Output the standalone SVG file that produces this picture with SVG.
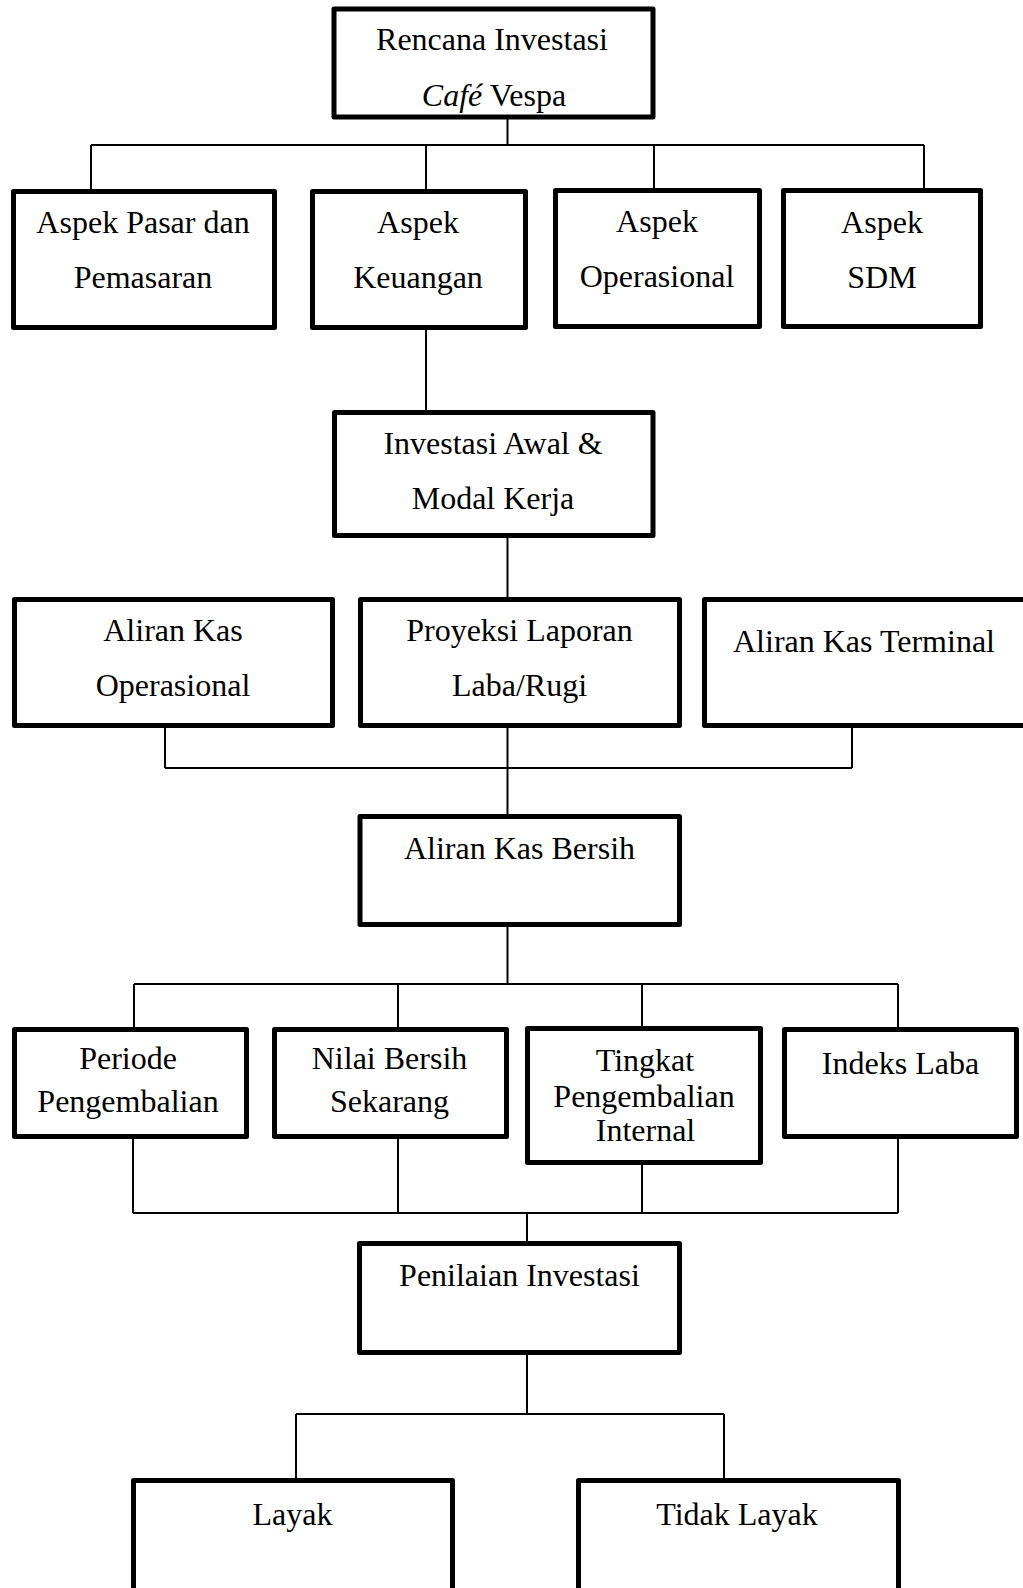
<svg xmlns="http://www.w3.org/2000/svg" width="1023" height="1588" viewBox="0 0 1023 1588">
<style>
.box{fill:#fff;stroke:#000;stroke-width:5;stroke-linejoin:round}
.t{font-family:"Liberation Serif","Times New Roman",serif;font-size:32px;fill:#000;text-anchor:middle}
.c{fill:none;stroke:#000;stroke-width:2}
</style>
<rect width="1023" height="1588" fill="#fff"/>
<g id="connectors">
<path class="c" d="M507.5 119V145 M91 145H924 M91 145V189 M426 145V189 M654 145V188 M924 145V188"/>
<path class="c" d="M426 330V410"/>
<path class="c" d="M507.5 538V597"/>
<path class="c" d="M165 728V768 M507.5 728V814 M852 728V768 M165 768H852"/>
<path class="c" d="M507.5 927V984 M134 984H898 M134 984V1027 M398 984V1027 M642 984V1026 M898 984V1027"/>
<path class="c" d="M133 1139V1213 M398 1139V1213 M642 1165V1213 M898 1139V1213 M133 1213H898 M527 1213V1241"/>
<path class="c" d="M527 1355V1414 M296 1414H724 M296 1414V1478 M724 1414V1478"/>
</g>
<g id="n-rencana"><rect class="box" x="334" y="9" width="319" height="108"/>
<text class="t" x="492" y="50">Rencana Investasi</text>
<text class="t" x="494" y="106"><tspan font-style="italic">Café</tspan> Vespa</text></g>
<g id="n-pasar"><rect class="box" x="13.5" y="191.5" width="261" height="136"/>
<text class="t" x="143" y="233">Aspek Pasar dan</text><text class="t" x="143" y="288">Pemasaran</text></g>
<g id="n-keuangan"><rect class="box" x="312.5" y="191.5" width="213" height="136"/>
<text class="t" x="418" y="233">Aspek</text><text class="t" x="418" y="288">Keuangan</text></g>
<g id="n-operasional"><rect class="box" x="555.5" y="190.5" width="204" height="136"/>
<text class="t" x="657" y="232">Aspek</text><text class="t" x="657" y="287">Operasional</text></g>
<g id="n-sdm"><rect class="box" x="783.5" y="190.5" width="197" height="136"/>
<text class="t" x="882" y="233">Aspek</text><text class="t" x="882" y="288">SDM</text></g>
<g id="n-investasi"><rect class="box" x="334.5" y="412.5" width="318.5" height="123"/>
<text class="t" x="493" y="454">Investasi Awal &amp;</text><text class="t" x="493" y="509">Modal Kerja</text></g>
<g id="n-aliran-op"><rect class="box" x="14.5" y="599.5" width="318" height="126"/>
<text class="t" x="173" y="641">Aliran Kas</text><text class="t" x="173" y="696">Operasional</text></g>
<g id="n-proyeksi"><rect class="box" x="360.5" y="599.5" width="319" height="126"/>
<text class="t" x="519.5" y="641">Proyeksi Laporan</text><text class="t" x="519.5" y="696">Laba/Rugi</text></g>
<g id="n-terminal"><rect class="box" x="704.5" y="599.5" width="330" height="126"/>
<text class="t" x="864" y="652">Aliran Kas Terminal</text></g>
<g id="n-bersih"><rect class="box" x="360" y="816.5" width="319.5" height="108"/>
<text class="t" x="519.5" y="859">Aliran Kas Bersih</text></g>
<g id="n-periode"><rect class="box" x="14.5" y="1029.5" width="232" height="107"/>
<text class="t" x="128" y="1069">Periode</text><text class="t" x="128" y="1111.5">Pengembalian</text></g>
<g id="n-nilai"><rect class="box" x="274.5" y="1029.5" width="232" height="107"/>
<text class="t" x="389.5" y="1069">Nilai Bersih</text><text class="t" x="389.5" y="1111.5">Sekarang</text></g>
<g id="n-tingkat"><rect class="box" x="527.5" y="1028.5" width="233" height="134"/>
<text class="t" x="645" y="1071">Tingkat</text><text class="t" x="644" y="1106.5">Pengembalian</text><text class="t" x="645.5" y="1141">Internal</text></g>
<g id="n-indeks"><rect class="box" x="784.5" y="1029.5" width="232" height="107"/>
<text class="t" x="900.5" y="1073.5">Indeks Laba</text></g>
<g id="n-penilaian"><rect class="box" x="359.5" y="1243.5" width="320" height="109"/>
<text class="t" x="519.5" y="1286">Penilaian Investasi</text></g>
<g id="n-layak"><rect class="box" x="133.5" y="1480.5" width="319" height="110"/>
<text class="t" x="292.5" y="1525">Layak</text></g>
<g id="n-tidak"><rect class="box" x="578.5" y="1480.5" width="320" height="110"/>
<text class="t" x="737" y="1525">Tidak Layak</text></g>
</svg>
